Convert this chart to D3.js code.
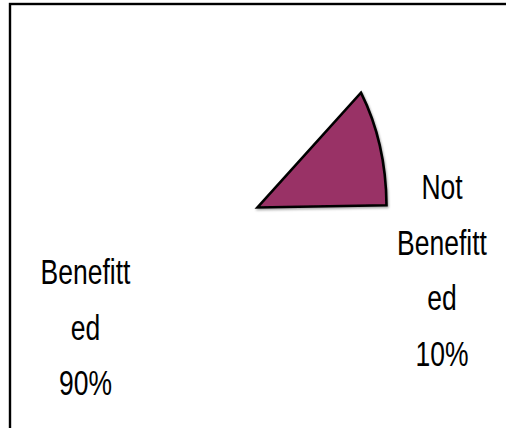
<!DOCTYPE html>
<html>
<head>
<meta charset="utf-8">
<script src="https://cdn.jsdelivr.net/npm/d3@7/dist/d3.min.js"></script>
<style>
  html, body { margin: 0; padding: 0; background: #fff; }
  svg { display: block; }
  text { font-family: "Liberation Sans", Arial, sans-serif; fill: #000; }
</style>
</head>
<body>
<script>
// Share of respondents who benefitted from the scheme
const categories = ["Benefitted", "Not Benefitted"];
const values = [90, 10];
// Category names as they wrap inside the label boxes
const nameLines = [["Benefitt", "ed"], ["Not", "Benefitt", "ed"]];
const sliceFills = ["none", "#993366"];

const W = 506, H = 428;
const svg = d3.select("body").append("svg")
  .attr("width", W).attr("height", H);

const defs = svg.append("defs");
const sh = defs.append("filter").attr("id", "shadow")
  .attr("filterUnits", "userSpaceOnUse")
  .attr("x", 0).attr("y", 0).attr("width", W).attr("height", H);
sh.append("feDropShadow").attr("dx", 1).attr("dy", 1.5)
  .attr("stdDeviation", 1).attr("flood-color", "#000").attr("flood-opacity", 0.35);

// chart frame
svg.append("rect")
  .attr("x", 10).attr("y", 4).attr("width", 620).attr("height", 520)
  .attr("fill", "none").attr("stroke", "#000").attr("stroke-width", 2.4);

// pie (plot area is stretched vertically, so the unit pie is scaled per axis)
const cx = 257.5, cy = 207.5, rx = 129, ry = 192;
const start = 89.3 * Math.PI / 180;
const pie = d3.pie().sort(null).startAngle(start).endAngle(start + 2 * Math.PI);
const arcs = pie(values);
const arc = d3.arc().innerRadius(0).outerRadius(1);

const gPie = svg.append("g")
  .attr("filter", "url(#shadow)")
  .append("g")
  .attr("transform", `translate(${cx},${cy}) scale(${rx},${ry})`);

gPie.selectAll("path")
  .data(arcs)
  .join("path")
  .attr("d", arc)
  .attr("fill", (d, i) => sliceFills[i])
  .attr("stroke", (d, i) => sliceFills[i] === "none" ? "none" : "#000")
  .attr("stroke-width", 2.6)
  .attr("stroke-linejoin", "miter")
  .attr("vector-effect", "non-scaling-stroke");

// data labels: wrapped name followed by the percentage
const labelPos = [
  { x: 85.5, y: 284 },
  { x: 442, y: 199 }
];
const lineStep = 55.5;
const fontSize = 26.5, stretchY = 1.3;

categories.forEach((c, i) => {
  const total = d3.sum(values);
  const lines = nameLines[i].concat([`${Math.round(values[i] / total * 100)}%`]);
  const g = svg.append("g").attr("class", "label");
  lines.forEach((t, k) => {
    g.append("text")
      .attr("transform", `translate(${labelPos[i].x},${labelPos[i].y + k * lineStep}) scale(1,${stretchY})`)
      .attr("text-anchor", "middle")
      .attr("font-size", fontSize)
      .text(t);
  });
});
</script>
</body>
</html>
